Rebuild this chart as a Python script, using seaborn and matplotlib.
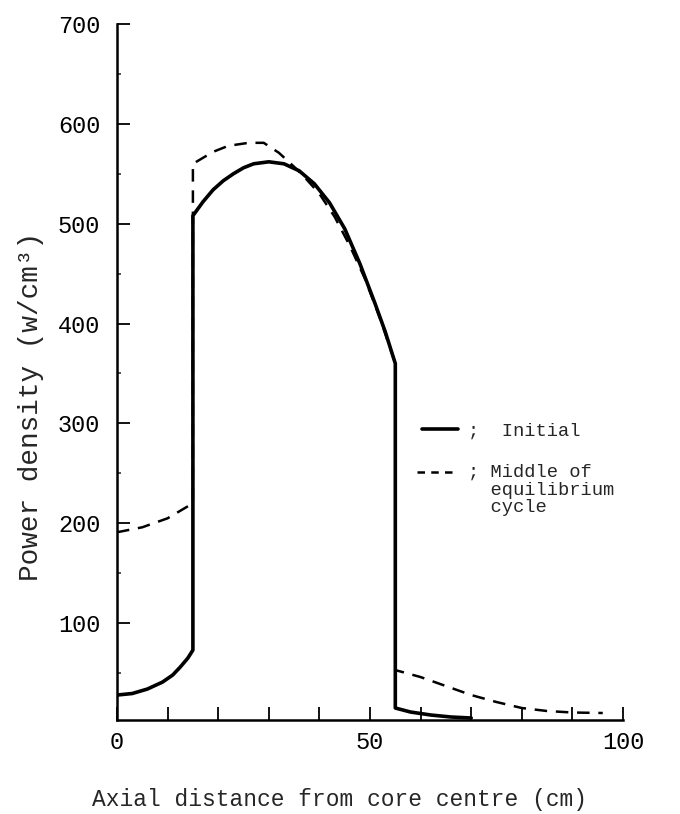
import seaborn as sns
from matplotlib import pyplot as plt
from matplotlib.lines import Line2D
from matplotlib.ticker import FixedLocator

# axial distance (cm) / power density (w/cm^3)
initial_x = [0, 3, 6, 9, 11, 12.5, 14, 15, 15, 17, 19, 21, 23, 25, 27, 30, 33, 36, 39,
             42, 45, 48, 51, 53, 55, 55, 58, 62, 66, 70]
initial_y = [28, 29.5, 34, 41, 48, 56, 65, 73, 508, 522, 534, 543, 550, 556, 560, 562,
             560, 553, 540, 521, 495, 460, 420, 392, 360, 15, 11, 8, 6, 5]

middle_x = [0, 5, 10, 15, 15, 19, 22, 26, 29, 32, 35, 37, 40, 43, 46, 49, 52, 55,
            55, 60, 65, 70, 75, 80, 85, 90, 96]
middle_y = [191, 196, 205, 220, 560, 572, 578, 581, 581, 571, 557, 547, 530, 507, 478,
            445, 405, 360, 53, 46, 37, 28, 21, 15, 12, 10.5, 10]

x_ticks = list(range(0, 101, 10))
x_tick_labels = ["0", "", "", "", "", "50", "", "", "", "", "100"]
y_ticks = list(range(100, 701, 100))
y_minor_ticks = list(range(50, 700, 100))

legend_labels = [";  Initial", "; Middle of", "  equilibrium", "  cycle"]

sns.set_style("ticks")
plt.rcParams["font.family"] = ["Liberation Mono", "DejaVu Sans"]

fig = plt.figure(figsize=(6.8, 8.14), dpi=100)
ax = fig.add_axes([117 / 680, 1 - 720 / 814, 506 / 680, 696 / 814])

sns.lineplot(x=initial_x, y=initial_y, sort=False, estimator=None,
             color="black", linewidth=2.6, ax=ax)
sns.lineplot(x=middle_x, y=middle_y, sort=False, estimator=None,
             color="black", linewidth=1.8, linestyle=(0, (5, 3.5)), ax=ax)

ax.set_xlim(0, 100)
ax.set_ylim(3, 700)
sns.despine(ax=ax)
for side in ["left", "bottom"]:
    ax.spines[side].set_linewidth(1.8)
    ax.spines[side].set_color("black")

ax.set_xticks(x_ticks)
ax.set_xticklabels(x_tick_labels)
ax.set_yticks(y_ticks)
ax.yaxis.set_minor_locator(FixedLocator(y_minor_ticks))
ax.tick_params(axis="x", direction="in", length=9.5, width=1.3, pad=8,
               labelsize=17, colors="black")
ax.tick_params(axis="y", which="major", direction="in", length=9, width=1.3,
               pad=12, labelsize=17, colors="black")
ax.tick_params(axis="y", which="minor", direction="in", length=3, width=1.1)

ax.set_xlabel("Axial distance from core centre (cm)", fontsize=16.5)
ax.xaxis.set_label_coords(0.439, -0.097)
ax.set_ylabel("Power density (w/cm³)", fontsize=20)
ax.yaxis.set_label_coords(-0.145, 0.45)

# hand-drawn style key inside the plot
fig.add_artist(Line2D([422 / 680, 458 / 680], [1 - 429 / 814] * 2,
                      color="black", linewidth=2.6))
fig.add_artist(Line2D([417 / 680, 458 / 680], [1 - 472 / 814] * 2,
                      color="black", linewidth=1.8, linestyle=(0, (3, 2.5))))
for label, y in zip(legend_labels, [436, 477, 495, 512]):
    fig.text(468 / 680, 1 - y / 814, label, fontsize=13.5, va="baseline")

fig.savefig("out.png", dpi=100)
